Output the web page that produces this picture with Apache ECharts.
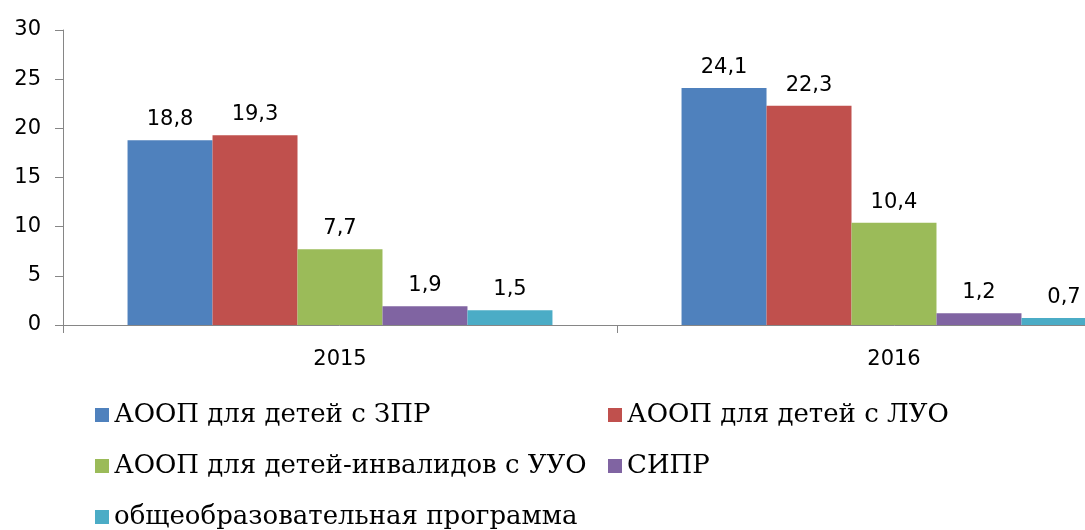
<!DOCTYPE html>
<html>
<head>
<meta charset="utf-8">
<script src="https://cdn.jsdelivr.net/npm/echarts@6/dist/echarts.min.js"></script>
<style>
  html, body { margin: 0; padding: 0; background: #fff; overflow: hidden; }
  /* the plot runs past the right edge of the window, as in the original */
  #chart { width: 1171px; height: 530px; }
</style>
</head>
<body>
<div id="chart"></div>
<script>
// categories (years)
const years = ["2015", "2016"];

// series names
const seriesNames = [
  "АООП для детей с ЗПР",
  "АООП для детей с ЛУО",
  "АООП для детей-инвалидов с УУО",
  "СИПР",
  "общеобразовательная программа",
];

// values per series, one per year
const zprValues = [18.8, 24.1];
const luoValues = [19.3, 22.3];
const uuoValues = [7.7, 10.4];
const siprValues = [1.9, 1.2];
const generalValues = [1.5, 0.7];

const seriesValues = [zprValues, luoValues, uuoValues, siprValues, generalValues];
const colors = ["#4F81BD", "#C0504D", "#9BBB59", "#8064A2", "#4BACC6"];

const axisColor = "#868686";
const labelFont = "DejaVu Sans";
const legendFont = "DejaVu Serif";

const chart = echarts.init(document.getElementById("chart"));

// legend laid out in 2 columns x 3 rows like the original
const legendSlots = [
  { name: seriesNames[0], left: 95, top: 402 },
  { name: seriesNames[1], left: 608, top: 402 },
  { name: seriesNames[2], left: 95, top: 453 },
  { name: seriesNames[3], left: 608, top: 453 },
  { name: seriesNames[4], left: 95, top: 504 },
];

const option = {
  animation: false,
  color: colors,
  grid: {
    left: 63,
    top: 30,
    right: 0,
    bottom: 205,
    containLabel: false,
  },
  legend: legendSlots.map((s) => ({
    data: [s.name],
    left: s.left,
    top: s.top,
    icon: "rect",
    itemWidth: 14,
    itemHeight: 14,
    padding: 0,
    textStyle: { fontFamily: legendFont, fontSize: 26, color: "#000" },
  })),
  xAxis: {
    type: "category",
    data: years,
    axisLine: { lineStyle: { color: axisColor, width: 1 } },
    axisTick: { show: true, length: 8, lineStyle: { color: axisColor } },
    axisLabel: {
      fontFamily: labelFont,
      fontSize: 21,
      color: "#000",
      margin: 24,
    },
  },
  yAxis: {
    type: "value",
    min: 0,
    max: 30,
    interval: 5,
    axisLine: { show: true, lineStyle: { color: axisColor, width: 1 } },
    axisTick: { show: true, length: 8, lineStyle: { color: axisColor } },
    splitLine: { show: false },
    axisLabel: {
      fontFamily: labelFont,
      fontSize: 21,
      color: "#000",
      margin: 22,
    },
  },
  series: seriesNames.map((name, i) => ({
    name: name,
    type: "bar",
    data: seriesValues[i],
    barGap: "0%",
    barCategoryGap: "23.3%",
    itemStyle: { color: colors[i] },
    label: {
      show: true,
      position: "top",
      distance: 10,
      fontFamily: labelFont,
      fontSize: 21,
      color: "#000",
      formatter: (p) => String(p.value).replace(".", ","),
    },
  })),
};

chart.setOption(option);
</script>
</body>
</html>
